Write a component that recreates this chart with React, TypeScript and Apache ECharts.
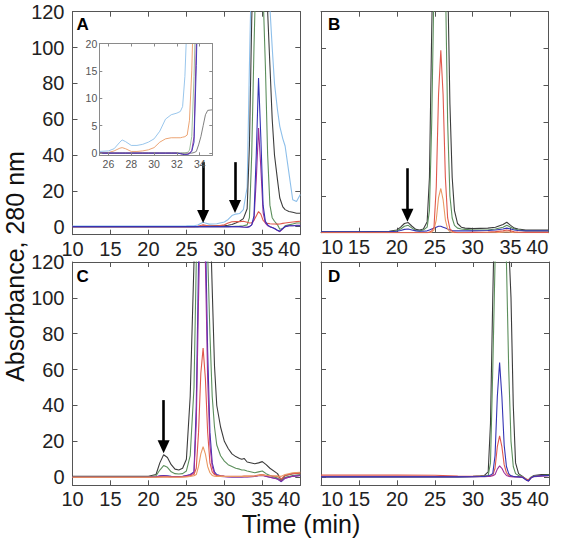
import React, { useEffect, useRef } from "react";
import * as echarts from "echarts";

// ---------- Panel A (main) ----------
const tA = [10, 20, 25, 26, 26.5, 27, 27.2, 27.5, 28, 29, 30, 30.5, 31, 31.5, 32, 32.5, 33, 33.3, 33.6, 33.9, 34.2, 34.5, 34.8, 35.1, 35.4, 35.7, 36, 36.3, 36.6, 37, 37.3, 37.7, 38, 38.5, 39, 39.5, 40];
const lightblueA = [0.3, 0.3, 0.4, 0.5, 0.9, 2.0, 2.4, 2.0, 1.4, 1.6, 2.6, 4.0, 6.2, 7.0, 7.3, 9.5, 22, 90, 150, 170, 180, 185, 180, 170, 160, 140, 122, 100, 80, 65, 56, 49, 45, 30, 15, 14, 18];
const darkgreyA = [0, 0, 0, 0, 0, 0.2, 0.3, 0.3, 0.3, 0.4, 0.5, 0.8, 1.2, 2, 3, 4.5, 10, 45, 115, 160, 180, 185, 175, 160, 140, 120, 90, 60, 40, 26, 16, 11, 9.5, 8.5, 8, 7.5, 7.5];
const greenA = [0, 0, 0, 0, 0, 0, 0, 0, 0, 0, 0, 0, 0.1, 0.2, 0.3, 0.5, 1, 5, 40, 100, 150, 170, 160, 130, 90, 40, 12, 5, 3, 1, -1.5, -1, 0.5, 1, 1.5, 2, 2];
const redA = [0, 0, 0, 0, 0.2, 0.8, 1.0, 0.8, 0.3, 0.4, 1.0, 2.0, 2.7, 2.8, 2.8, 3.0, 2.5, 2.0, 2.2, 3.5, 6, 8.4, 7, 3.5, 2.2, 1.8, 1.6, 1.5, 1.5, 1.4, 1.5, 1.8, 2.0, 2.3, 2.6, 2.8, 3.0];
const purpleA = [0, 0, 0, 0, 0, 0, 0, 0, 0, 0, 0, 0, 0, 0, 0, -0.2, -0.3, 0, 1, 4, 26, 55, 33, 8, 2, 0.5, 0, -0.5, -1, -2.2, -2.8, -1.2, 0, 0.5, 0.5, 0.8, 0.8];
const blueA = [0, 0, 0, 0, 0, 0, 0, 0, 0, 0, 0, 0, 0, 0, 0, -0.2, -0.3, 0, 1, 6, 40, 83, 50, 12, 3, 1, 0, -0.5, -1, -2, -2.5, -1, 0, 0.5, 0.5, 0.5, 0.5];

// ---------- Panel A inset ----------
const tIn = [25.2, 26, 26.5, 27, 27.2, 27.5, 28, 28.5, 29, 29.5, 30, 30.5, 31, 31.5, 32, 32.3, 32.5, 32.7, 32.9, 33.1, 33.3, 33.5, 33.7, 33.9, 34.1, 34.3, 34.5, 34.7, 35.1];
const lightblueIn = [0.3, 0.4, 0.8, 2.0, 2.4, 2.1, 1.4, 1.4, 1.6, 2.0, 2.6, 4.0, 6.2, 7.0, 7.3, 7.6, 8.5, 14, 25, 35, 45, 60, 80, 100, 100, 100, 100, 100, 100];
const orangeIn = [0, 0.1, 0.4, 0.9, 1.0, 0.8, 0.3, 0.3, 0.4, 0.6, 1.0, 2.0, 2.6, 2.8, 2.8, 2.8, 2.9, 3.0, 3.3, 6, 15, 30, 50, 60, 60, 60, 60, 60, 60];
const greenIn = [0, 0, 0, 0, 0, 0, 0, 0, 0, 0, 0, 0, 0, 0, 0, 0, 0, 0, 0.1, 0.5, 3, 14, 30, 60, 80, 90, 90, 90, 90];
const purpleIn = [0, 0, 0, 0, 0, 0, 0, 0, 0, 0, 0, 0, 0, 0, 0, -0.1, -0.2, -0.3, -0.2, 0, 0.5, 3, 20, 40, 60, 70, 70, 70, 70];
const blueIn = [0, 0, 0, 0, 0, 0, 0, 0, 0, 0, 0, 0, 0, 0, 0, -0.1, -0.2, -0.3, -0.3, -0.1, 0.3, 2, 16, 35, 55, 65, 65, 65, 65];
const greyIn = [0, 0, 0, 0, 0, 0, 0, 0, 0, 0, 0, 0, 0, 0, 0, 0, 0, 0, 0, 0, 0, 0.1, 0.3, 1.5, 3, 5, 7, 7.8, 7.9];

// ---------- Panel B ----------
const tB = [10, 15, 19, 20, 20.5, 21, 21.5, 22, 22.5, 23, 23.5, 24, 24.3, 24.6, 24.9, 25.2, 25.5, 25.8, 26.1, 26.4, 26.7, 27, 27.3, 27.6, 28, 28.5, 29, 30, 32, 33, 34, 34.5, 35, 35.5, 36, 37, 38, 40];
const greyB = [0.5, 0.5, 0.8, 1.5, 3, 5, 5.5, 3.5, 1.8, 1.5, 2, 6, 30, 110, 180, 200, 210, 210, 200, 180, 140, 70, 30, 12, 5, 3, 2.5, 2.2, 2.5, 3, 4.5, 5.7, 4, 2.5, 2, 1.5, 1.5, 1.5];
const greenB = [0.2, 0.2, 0.5, 1, 2, 3.5, 4, 2.5, 1.2, 1, 1.5, 3, 12, 60, 135, 170, 185, 185, 175, 140, 60, 20, 8, 4, 2.5, 2, 1.8, 1.5, 1.5, 2, 3, 4, 3, 2, 1.5, 1, 1, 1];
const redB = [0, 0, 0, 0, 0, 0, 0, 0, 0, 0, 0, 0, 0.3, 1, 3, 25, 75, 99, 75, 30, 8, 2, 0.8, 0.3, 0, 0, 0, 0.2, 0.4, 0.6, 1, 1.5, 1, 0.5, 0.3, 0.2, 0.2, 0.2];
const orangeB = [0, 0, 0, 0, 0, 0, 0, 0, 0, 0, 0, 0, 0.1, 0.3, 1.5, 7, 19, 24, 18, 7, 2, 0.6, 0.2, 0, 0, 0, 0, 0, 0, 0, 0.3, 0.5, 0.3, 0, 0, 0, 0, 0];
const blueB = [0.5, 0.5, 0.6, 0.8, 1.2, 1.8, 2, 1.5, 1, 0.8, 0.8, 1, 1.5, 2, 2.5, 3, 3.5, 3.5, 3, 2.5, 2, 1.5, 1.2, 1, 1, 1, 1, 1, 1.2, 1.5, 2, 2.5, 2, 1.5, 1.2, 1, 1, 1];

// ---------- Panel C ----------
const tC = [10, 15, 20, 21, 21.5, 22, 22.5, 23, 23.5, 24, 24.5, 25, 25.5, 26, 26.3, 26.6, 26.9, 27.2, 27.5, 27.8, 28.1, 28.4, 28.7, 29, 29.5, 30, 30.5, 31, 31.5, 32, 32.3, 32.6, 33, 34, 34.5, 35, 35.5, 36, 37, 37.5, 38, 39, 40];
const greyC = [0.5, 0.5, 0.5, 1.5, 8, 12.5, 11, 7, 4.5, 4, 5, 10, 45, 120, 170, 200, 210, 210, 200, 185, 150, 105, 62, 40, 28, 20, 16, 13, 11.5, 10.5, 10, 10.5, 8.5, 7.5, 8, 8.7, 7, 5, 2, -1.8, 1, 2, 2.5];
const greenC = [0.3, 0.3, 0.3, 0.8, 4, 6.5, 5.5, 3, 2, 1.8, 2, 3.5, 12, 50, 120, 170, 190, 190, 170, 125, 80, 45, 28, 18, 12, 9, 7, 6, 5, 4.5, 4, 4, 3.5, 2.5, 3, 3.5, 2, 1, -0.5, -2, 0, 1, 1.5];
const blueC = [0, 0, 0, 0.3, 0.8, 1, 0.8, 0.5, 0.4, 0.4, 0.5, 1, 1.5, 3, 40, 120, 180, 190, 140, 70, 25, 8, 3, 1.5, 0.8, 0.5, 0.3, 0.2, 0.2, 0.2, 0.2, 0.3, 0.3, 0.5, 1, 1.2, 0.5, 0, -1, -2.5, -0.5, 0.5, 1];
const purpleC = [0, 0, 0, 0.2, 0.5, 0.7, 0.5, 0.3, 0.3, 0.3, 0.4, 0.8, 1.2, 2.5, 30, 100, 160, 175, 120, 55, 18, 6, 2, 1, 0.5, 0.3, 0.2, 0.1, 0.1, 0.1, 0.1, 0.2, 0.2, 0.4, 0.8, 1, 0.4, 0, -1, -2.2, -0.5, 0.5, 1];
const redC = [0, 0, 0, 0, 0.2, 0.3, 0.2, 0.1, 0.1, 0.1, 0.2, 0.4, 0.8, 1.5, 5, 25, 58, 72, 55, 25, 8, 3, 1.5, 1, 0.8, 0.6, 0.5, 0.5, 0.5, 0.5, 0.5, 0.6, 0.6, 0.8, 1.2, 1.5, 1, 0.8, 0.5, -1, 1, 2, 2.2];
const orangeC = [0, 0, 0, 0, 0, 0.1, 0.1, 0, 0, 0, 0.1, 0.2, 0.4, 0.8, 1.5, 6, 13, 17, 13, 6, 2.5, 1, 0.6, 0.5, 0.5, 0.4, 0.4, 0.4, 0.4, 0.4, 0.4, 0.5, 0.5, 0.7, 1, 1.3, 1, 0.8, 0.6, 0.5, 1.5, 2.5, 2.8];

// ---------- Panel D ----------
const tD = [10, 20, 25, 28, 30, 31, 31.5, 32, 32.3, 32.6, 32.9, 33.2, 33.5, 33.8, 34.1, 34.4, 34.7, 35, 35.3, 35.6, 36, 36.5, 37, 37.3, 37.6, 38, 39, 40];
const greyD = [0.3, 0.3, 0.3, 0.3, 0.5, 0.8, 1, 3, 30, 100, 160, 190, 200, 190, 170, 150, 130, 100, 40, 8, 2, 0.5, -1.5, -2, -0.5, 1, 1.5, 1.5];
const greenD = [0.2, 0.2, 0.2, 0.2, 0.3, 0.5, 0.6, 1, 8, 60, 120, 170, 180, 165, 140, 120, 60, 20, 6, 2, 1, 0.5, -1, -1.5, 0, 0.8, 1, 1.2];
const blueD = [0.2, 0.2, 0.2, 0.2, 0.3, 0.4, 0.5, 0.8, 1.2, 2, 12, 45, 64, 45, 18, 6, 2, 0.8, 0.5, 0.3, 0.2, 0, -1.5, -2, -0.5, 0.5, 0.8, 1];
const redD = [1.2, 1.2, 1.1, 0.6, 0.5, 0.5, 0.5, 0.6, 0.8, 1, 5, 17, 23, 17, 7, 2.5, 1, 0.6, 0.4, 0.3, 0.3, 0.2, -1, -1.5, -0.3, 0.5, 0.8, 1];
const purpleD = [0.3, 0.3, 0.3, 0.3, 0.3, 0.3, 0.3, 0.4, 0.5, 0.8, 1.5, 4.5, 6.3, 5, 2.5, 1, 0.5, 0.3, 0.2, 0.1, 0.1, 0, -1.5, -2.2, -0.5, 0.3, 0.6, 0.8];

// ---------- Axis ticks & labels ----------
const xTicksMain = [10, 15, 20, 25, 30, 35, 40];
const yTicksMain = [0, 20, 40, 60, 80, 100, 120];
const xTicksInset = [26, 28, 30, 32, 34];
const yTicksInset = [0, 5, 10, 15, 20];

// arrows: [time, yStart, yEnd]
const arrowsA = [[27.2, 36, 5.6], [31.4, 36, 11.2]];
const arrowsB = [[21.4, 35, 9.5]];
const arrowsC = [[22.0, 43, 17]];

const COLORS = {
  lightblue: "#8dbfea",
  darkgrey: "#3c3c3c",
  green: "#5c8f5c",
  red: "#e0584c",
  orange: "#ea9a64",
  purple: "#9c2f9c",
  blue: "#3434b4",
  grey: "#707070",
};

const FONT = "'Liberation Sans', Arial, sans-serif";

const zip = (t: number[], v: number[]) => t.map((x, i) => [x, v[i]]);

export default function App() {
  const ref = useRef<HTMLDivElement>(null);

  useEffect(() => {
    if (!ref.current) return;
    const chart = echarts.init(ref.current, null, { renderer: "svg" });

    const grids = [
      { left: 72.5, top: 11.7, width: 227.8, height: 223 }, // A
      { left: 99.3, top: 43.5, width: 113, height: 111.8 }, // inset
      { left: 321, top: 11.7, width: 227.5, height: 221 }, // B
      { left: 72.5, top: 262, width: 227.8, height: 223.3 }, // C
      { left: 321, top: 262, width: 228, height: 223.3 }, // D
    ];
    const cfg = [
      { xmin: 10, xmax: 40, ymin: -4.5, ymax: 120, xt: xTicksMain, yt: yTicksMain, ylab: true, inset: false, minAlign: "center" },
      { xmin: 25.2, xmax: 35.1, ymin: -0.4, ymax: 20, xt: xTicksInset, yt: yTicksInset, ylab: true, inset: true, minAlign: "center" },
      { xmin: 10, xmax: 40, ymin: 0, ymax: 120, xt: xTicksMain, yt: yTicksMain, ylab: false, inset: false, minAlign: "left" },
      { xmin: 10, xmax: 40, ymin: -4.5, ymax: 120, xt: xTicksMain, yt: yTicksMain, ylab: true, inset: false, minAlign: "center" },
      { xmin: 10, xmax: 40, ymin: -4.5, ymax: 120, xt: xTicksMain, yt: yTicksMain, ylab: false, inset: false, minAlign: "left" },
    ];

    const xAxes: any[] = [];
    const yAxes: any[] = [];
    cfg.forEach((c, g) => {
      const lineColor = c.inset ? "#8a8a8a" : "#555";
      const fs = c.inset ? 10.5 : 20;
      const labColor = c.inset ? "#555" : "#222";
      const tickLen = c.inset ? 3 : 5;
      const z = c.inset ? 12 : 2;
      ["bottom", "top"].forEach((pos, k) => {
        xAxes.push({
          type: "value",
          gridIndex: g,
          position: pos,
          min: c.xmin,
          max: c.xmax,
          z,
          axisLine: { show: true, onZero: false, lineStyle: { color: lineColor, width: 1 } },
          axisTick: { show: true, inside: true, length: tickLen, customValues: c.xt, lineStyle: { color: lineColor } },
          axisLabel: {
            show: k === 0,
            customValues: c.xt,
            fontSize: fs,
            color: labColor,
            fontFamily: FONT,
            margin: c.inset ? 3 : 4,
            showMinLabel: true,
            showMaxLabel: true,
            hideOverlap: false,
            alignMinLabel: c.minAlign,
            alignMaxLabel: c.inset ? "center" : "right",
          },
          splitLine: { show: false },
        });
      });
      ["left", "right"].forEach((pos, k) => {
        yAxes.push({
          type: "value",
          gridIndex: g,
          position: pos,
          min: c.ymin,
          max: c.ymax,
          z,
          axisLine: { show: true, onZero: false, lineStyle: { color: lineColor, width: 1 } },
          axisTick: { show: true, inside: true, length: tickLen, customValues: c.yt, lineStyle: { color: lineColor } },
          axisLabel: {
            show: k === 0 && c.ylab,
            customValues: c.yt,
            fontSize: fs,
            color: labColor,
            fontFamily: FONT,
            margin: c.inset ? 2 : 8,
          },
          splitLine: { show: false },
        });
      });
    });

    const series: any[] = [];
    const addLine = (g: number, t: number[], v: number[], color: string, extra: any = {}) => {
      const inset = g === 1;
      series.push({
        type: "line",
        xAxisIndex: g * 2,
        yAxisIndex: g * 2,
        data: zip(t, v),
        symbol: "none",
        showSymbol: false,
        clip: true,
        silent: true,
        lineStyle: { color, width: inset ? 0.9 : 1.1 },
        z: inset ? 10 : 3,
        ...extra,
      });
    };
    const arrowMark = (arr: number[][]) => ({
      silent: true,
      symbol: ["none", "triangle"],
      symbolSize: [12, 13],
      label: { show: false },
      lineStyle: { color: "#000", width: 2.6, type: "solid" },
      itemStyle: { color: "#000" },
      data: arr.map(([t, y0, y1]) => [{ coord: [t, y0] }, { coord: [t, y1] }]),
    });

    // A
    addLine(0, tA, lightblueA, COLORS.lightblue);
    addLine(0, tA, darkgreyA, COLORS.darkgrey);
    addLine(0, tA, greenA, COLORS.green);
    addLine(0, tA, redA, COLORS.red);
    addLine(0, tA, purpleA, COLORS.purple);
    addLine(0, tA, blueA, COLORS.blue, { markLine: arrowMark(arrowsA) });
    // inset
    addLine(1, tIn, lightblueIn, COLORS.lightblue);
    addLine(1, tIn, orangeIn, COLORS.orange);
    addLine(1, tIn, greenIn, "#93b893");
    addLine(1, tIn, greyIn, COLORS.grey);
    addLine(1, tIn, purpleIn, COLORS.purple);
    addLine(1, tIn, blueIn, COLORS.blue);
    // B
    addLine(2, tB, greyB, COLORS.darkgrey);
    addLine(2, tB, greenB, COLORS.green);
    addLine(2, tB, blueB, COLORS.blue);
    addLine(2, tB, orangeB, COLORS.orange);
    addLine(2, tB, redB, COLORS.red, { markLine: arrowMark(arrowsB) });
    // C
    addLine(3, tC, greyC, COLORS.darkgrey);
    addLine(3, tC, greenC, COLORS.green);
    addLine(3, tC, blueC, COLORS.blue);
    addLine(3, tC, purpleC, COLORS.purple);
    addLine(3, tC, redC, COLORS.red);
    addLine(3, tC, orangeC, COLORS.orange, { markLine: arrowMark(arrowsC) });
    // D
    addLine(4, tD, greyD, COLORS.darkgrey);
    addLine(4, tD, greenD, COLORS.green);
    addLine(4, tD, redD, COLORS.red);
    addLine(4, tD, purpleD, COLORS.purple);
    addLine(4, tD, blueD, COLORS.blue);

    const panelLetter = (txt: string, x: number, y: number) => ({
      type: "text",
      x,
      y,
      style: { text: txt, fontSize: 17, fontWeight: "bold", fontFamily: FONT, fill: "#000", textAlign: "left", textVerticalAlign: "middle" },
      z: 20,
    });

    chart.setOption({
      animation: false,
      backgroundColor: "#fff",
      grid: grids.map((g, i) => ({
        ...g,
        containLabel: false,
        show: i === 1,
        backgroundColor: "#fff",
        borderWidth: 0,
        z: i === 1 ? 5 : 0,
      })),
      xAxis: xAxes,
      yAxis: yAxes,
      series,
      graphic: [
        panelLetter("A", 76.5, 24.5),
        panelLetter("B", 328, 24.5),
        panelLetter("C", 76.5, 276),
        panelLetter("D", 328, 276),
        {
          type: "text",
          x: 15,
          y: 266.5,
          rotation: Math.PI / 2,
          style: { text: "Absorbance, 280 nm", fontSize: 25, fontFamily: FONT, fill: "#111", textAlign: "center", textVerticalAlign: "middle" },
        },
        {
          type: "text",
          x: 301,
          y: 523.5,
          style: { text: "Time (min)", fontSize: 25, fontFamily: FONT, fill: "#111", textAlign: "center", textVerticalAlign: "middle" },
        },
      ],
    });

    return () => chart.dispose();
  }, []);

  return <div ref={ref} style={{ position: "fixed", left: 0, top: 0, width: 562, height: 538 }} />;
}
